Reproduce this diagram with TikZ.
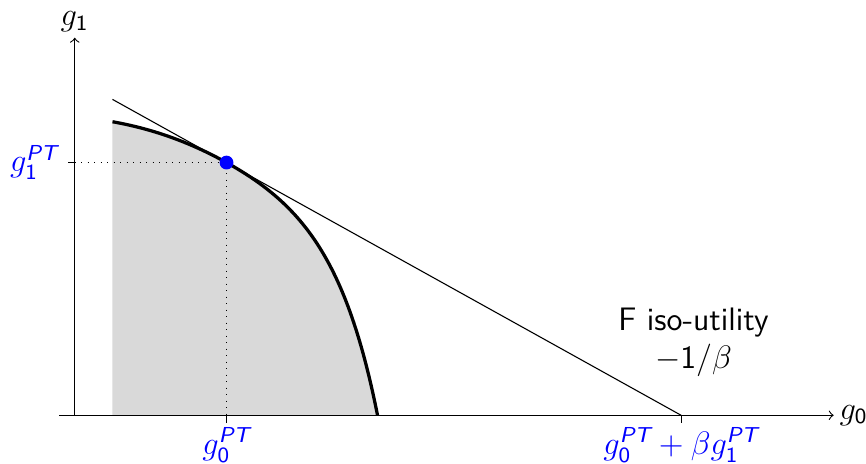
\documentclass[tikz,border=0pt]{standalone}
\usepackage{amsmath}
\colorlet{ptblue}{blue}
\newcommand{\gpt}[1]{g_{\mathsf{#1}}^{\textsf{\itshape PT}}}
\begin{document}
\begin{tikzpicture}[font=\sffamily\large]
    \useasboundingbox (-0.97,-0.62) rectangle (10.27,5.39);

    \coordinate (O) at (0,0);
    \coordinate (S) at (0.49,3.81);
    \coordinate (P) at (1.97,3.28);
    \coordinate (E) at (3.93,0);
    \coordinate (L) at (0.49,4.10);
    \coordinate (T) at (7.87,0);

    % feasible set
    \fill[gray!30] (S|-O) -- (S) .. controls (0.99,3.72) and (1.47,3.558) .. (P)
        .. controls (2.97,2.724) and (3.53,2.0) .. (E) -- cycle;

    \draw[->] (-0.2,0) -- (9.85,0) node[right, inner sep=2pt] (gx) {$g_{\mathsf{0}}$};
    \draw[->] (0,0) -- (0,4.9) node[above, inner sep=2pt] (gy) {$g_{\mathsf{1}}$};

    \draw[very thick] (S) .. controls (0.99,3.72) and (1.47,3.558) .. (P)
        .. controls (2.97,2.724) and (3.53,2.0) .. (E);
    \draw (L) -- (T);

    \draw[dotted] (O|-P) -- (P) -- (P|-O);
    \draw (P|-O) -- ++(0,-0.1) node[below, ptblue, inner sep=1.5pt] (g0pt) {$\gpt{0}$};
    \draw (O|-P) -- ++(-0.09,0) node[left, ptblue] (g1pt) {$\gpt{1}$};
    \draw (T) -- ++(0,-0.1) node[below, ptblue, inner sep=1.5pt] (tpt) {$\gpt{0}+\beta\gpt{1}$};

    \fill[ptblue] (P) circle (0.09);

    \node[align=center] (iso) at (8.03,0.95) {F iso-utility\\$-\mathsf{1}/\beta$};
\end{tikzpicture}
\end{document}
